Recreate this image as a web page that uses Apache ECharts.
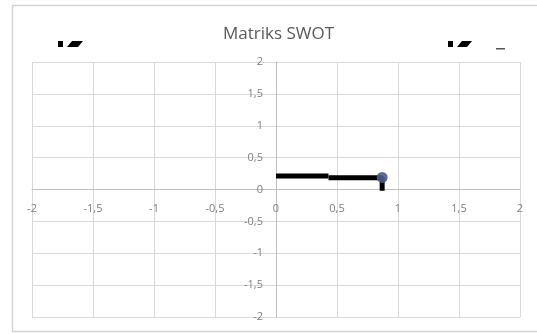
<!DOCTYPE html>
<html><head><meta charset="utf-8">
<script src="https://cdn.jsdelivr.net/npm/echarts@6/dist/echarts.min.js"></script>
<style>html,body{margin:0;padding:0;background:#fff}#c{width:537px;height:334px}</style>
</head><body><div id="c"></div>
<script>
var titleText = 'Matriks SWOT';
var xTicks = [-2, -1.5, -1, -0.5, 0, 0.5, 1, 1.5, 2];
var yTicks = [-2, -1.5, -1, -0.5, 0, 0.5, 1, 1.5, 2];
var lineA = [[0, 0.21], [0.43, 0.21]];
var lineB = [[0.43, 0.185], [0.87, 0.185], [0.87, -0.02]];
var point = [[0.87, 0.19]];

var fmt = function (v) { return String(v).replace('.', ','); };
var chart = echarts.init(document.getElementById('c'));
chart.setOption({
  animation: false,
  title: { text: titleText, left: 218, top: 21,
    textStyle: { fontFamily: 'Open Sans', fontSize: 17, fontWeight: 'normal', color: '#595959' } },
  grid: { left: 32, right: 17, top: 62, bottom: 17 },
  xAxis: { type: 'value', min: xTicks[0], max: xTicks[xTicks.length - 1], interval: 0.5,
    axisLine: { onZero: true, lineStyle: { color: '#bfbfbf', width: 1 } },
    axisTick: { show: false },
    splitLine: { show: true, lineStyle: { color: '#d9d9d9' } },
    axisLabel: { formatter: fmt, color: '#7f7f7f', fontFamily: 'Open Sans', fontSize: 11, margin: -114 } },
  yAxis: { type: 'value', min: yTicks[0], max: yTicks[yTicks.length - 1], interval: 0.5,
    axisLine: { show: true, onZero: true, lineStyle: { color: '#bfbfbf', width: 1 } },
    axisTick: { show: false },
    splitLine: { show: true, lineStyle: { color: '#d9d9d9' } },
    axisLabel: { formatter: fmt, color: '#7f7f7f', fontFamily: 'Open Sans', fontSize: 11, margin: -231 } },
  series: [
    { type: 'line', data: lineA, symbol: 'none', lineStyle: { color: '#000', width: 5 } },
    { type: 'line', data: lineB, symbol: 'none', lineStyle: { color: '#000', width: 5 } },
    { type: 'scatter', data: point, symbolSize: 11, itemStyle: { color: '#4a5a8c', opacity: 0.9 }, z: 5 }
  ],
  graphic: [
    { type: 'rect', shape: { x: 12.5, y: 5.5, width: 540, height: 326 }, style: { fill: 'none', stroke: '#d4d4d4', lineWidth: 1.5 }, z: 10 },
    { type: 'rect', shape: { x: 58, y: 41, width: 5, height: 6 }, style: { fill: '#000' } },
    { type: 'polygon', shape: { points: [[67, 47], [72, 41], [83, 41], [78, 47]] }, style: { fill: '#000' } },
    { type: 'rect', shape: { x: 448, y: 41, width: 5, height: 6 }, style: { fill: '#000' } },
    { type: 'polygon', shape: { points: [[457, 47], [462, 41], [472, 41], [467, 47]] }, style: { fill: '#000' } },
    { type: 'rect', shape: { x: 496, y: 48, width: 9, height: 1.5 }, style: { fill: '#555' } }
  ]
});
</script></body></html>
